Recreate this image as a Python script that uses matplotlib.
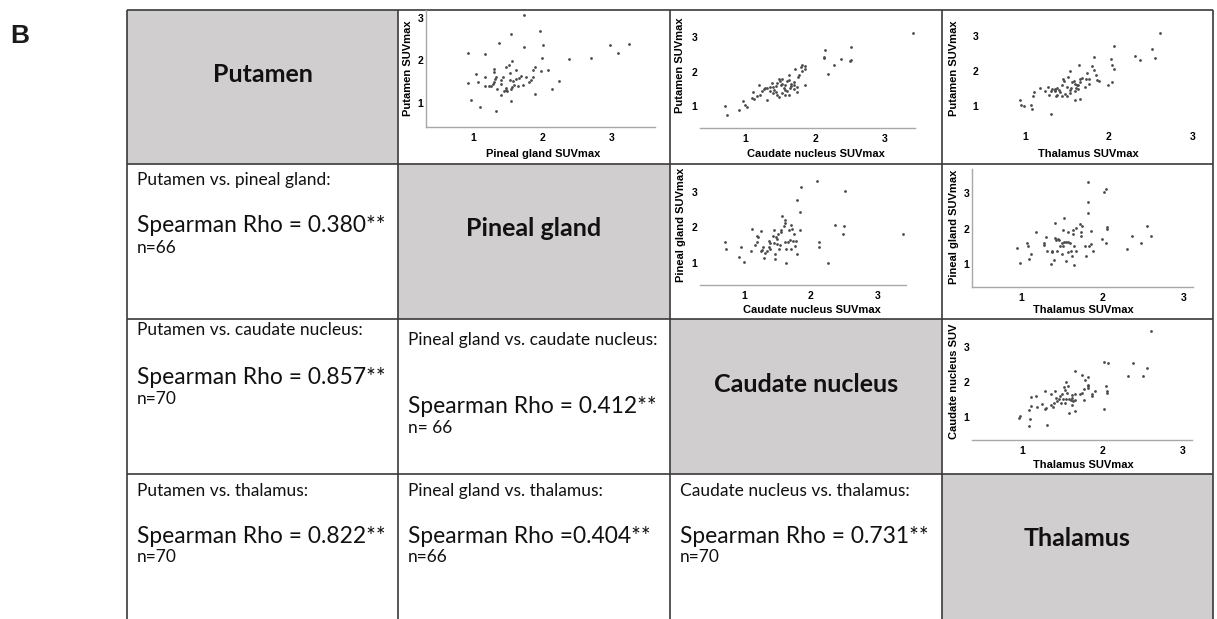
import matplotlib
matplotlib.use("Agg")
import matplotlib.pyplot as plt
import matplotlib.patches as mpatches

# Region names on the diagonal
regions = ["Putamen", "Pineal gland", "Caudate nucleus", "Thalamus"]

# Lower triangle: correlation texts (row, col)
pair_cells = [(1, 0), (2, 0), (3, 0), (2, 1), (3, 1), (3, 2)]
pair_titles = [
    "Putamen vs. pineal gland:",
    "Putamen vs. caudate nucleus:",
    "Putamen vs. thalamus:",
    "Pineal gland vs. caudate nucleus:",
    "Pineal gland vs. thalamus:",
    "Caudate nucleus vs. thalamus:",
]
rho_texts = [
    "Spearman Rho = 0.380**",
    "Spearman Rho = 0.857**",
    "Spearman Rho = 0.822**",
    "Spearman Rho = 0.412**",
    "Spearman Rho =0.404**",
    "Spearman Rho = 0.731**",
]
n_texts = ["n=66", "n=70", "n=70", "n= 66", "n=66", "n=70"]

# Upper triangle scatter data (x, y)
pin_put_x = [1.74, 1.97, 1.55, 1.37, 2.01, 1.73, 2.98, 3.26, 3.09, 0.92, 1.17, 2.00, 2.39,
             2.71, 1.56, 1.52, 1.47, 1.31, 1.62, 1.89, 1.87, 2.08, 1.98, 1.31, 1.54, 1.04,
             1.18, 1.33, 1.44, 1.67, 1.76, 1.86, 1.32, 1.41, 1.54, 1.58, 1.84, 1.07, 1.31,
             1.81, 2.24, 0.93, 1.29, 1.26, 1.23, 1.59, 1.65, 1.72, 1.48, 1.47, 1.45, 1.35,
             1.49, 1.55, 2.14, 1.41, 1.89, 0.97, 1.55, 1.10, 1.33, 1.62, 1.40, 1.70, 1.56,
             1.18]
pin_put_y = [3.07, 2.70, 2.63, 2.42, 2.36, 2.31, 2.35, 2.39, 2.17, 2.18, 2.14, 2.06, 2.03,
             2.05, 1.98, 1.89, 1.84, 1.80, 1.78, 1.83, 1.76, 1.78, 1.75, 1.72, 1.69, 1.67,
             1.61, 1.60, 1.61, 1.59, 1.61, 1.61, 1.55, 1.53, 1.54, 1.51, 1.54, 1.48, 1.48,
             1.48, 1.50, 1.45, 1.43, 1.40, 1.38, 1.42, 1.40, 1.42, 1.35, 1.30, 1.27, 1.31,
             1.27, 1.31, 1.32, 1.17, 1.20, 1.06, 1.04, 0.90, 0.79, 1.56, 1.43, 1.63, 1.37,
             1.40]

cau_put_x = [3.40, 2.14, 2.51, 2.12, 2.13, 2.37, 2.52, 2.50, 2.27, 2.18, 1.86, 1.80, 1.81,
             1.71, 1.85, 1.63, 1.52, 1.48, 1.63, 1.60, 1.70, 1.76, 1.65, 1.57, 1.45, 1.44,
             1.51, 1.40, 1.74, 1.85, 1.20, 1.31, 1.27, 1.35, 1.57, 1.60, 1.70, 1.44, 1.52,
             1.11, 1.24, 1.17, 1.21, 1.31, 1.13, 1.48, 1.62, 1.74, 0.96, 1.00, 1.03, 0.71,
             0.91, 0.73, 1.41, 1.50, 1.64, 1.35, 1.55, 1.46, 1.77, 1.69, 1.81, 1.40, 1.57,
             1.28, 1.66, 1.53, 1.38, 1.09]
cau_put_y = [3.09, 2.63, 2.71, 2.41, 2.39, 2.37, 2.34, 2.31, 2.18, 1.93, 2.17, 2.13, 2.00,
             2.06, 2.07, 1.89, 1.79, 1.78, 1.76, 1.72, 1.70, 1.83, 1.64, 1.62, 1.67, 1.59,
             1.60, 1.55, 1.56, 1.62, 1.60, 1.53, 1.49, 1.45, 1.48, 1.45, 1.50, 1.41, 1.37,
             1.41, 1.43, 1.29, 1.32, 1.19, 1.21, 1.28, 1.33, 1.40, 1.16, 1.03, 0.98, 1.02,
             0.89, 0.76, 1.46, 1.72, 1.53, 1.55, 1.53, 1.32, 1.91, 1.62, 2.18, 1.37, 1.33,
             1.52, 1.57, 1.64, 1.66, 1.24]

tha_put_x = [2.61, 2.06, 2.51, 2.31, 2.37, 2.55, 1.82, 2.02, 1.64, 2.04, 2.06, 1.80, 1.82,
             1.53, 1.74, 1.51, 1.45, 1.73, 1.76, 1.84, 1.86, 1.88, 1.66, 1.56, 1.59, 1.65,
             1.76, 1.63, 1.44, 1.99, 2.04, 1.17, 1.27, 1.35, 1.38, 1.40, 1.50, 1.55, 1.61,
             1.10, 1.31, 1.35, 1.41, 1.47, 1.59, 1.63, 1.09, 1.28, 1.37, 1.38, 1.50, 1.60,
             1.65, 0.94, 0.95, 0.98, 1.07, 1.08, 1.31, 1.54, 1.62, 1.36, 1.58, 1.44, 1.68,
             1.46, 1.32, 1.53, 1.24, 1.71]
tha_put_y = [3.08, 2.72, 2.62, 2.42, 2.30, 2.37, 2.39, 2.34, 2.18, 2.16, 2.07, 2.13, 2.04,
             1.99, 1.94, 1.83, 1.78, 1.78, 1.77, 1.90, 1.74, 1.71, 1.78, 1.68, 1.64, 1.68,
             1.62, 1.61, 1.61, 1.61, 1.69, 1.52, 1.54, 1.49, 1.51, 1.47, 1.54, 1.52, 1.51,
             1.40, 1.44, 1.42, 1.41, 1.35, 1.42, 1.49, 1.29, 1.31, 1.30, 1.33, 1.28, 1.19,
             1.22, 1.19, 1.05, 1.00, 1.05, 0.91, 0.79, 1.47, 1.59, 1.47, 1.71, 1.28, 1.80,
             1.71, 1.50, 1.38, 1.44, 1.56]

cau_pin_x = [2.10, 1.85, 2.52, 1.80, 1.84, 1.57, 1.62, 1.61, 2.36, 2.50, 1.70, 1.60, 1.72,
             1.84, 1.55, 1.56, 1.12, 1.26, 1.45, 2.49, 3.38, 1.75, 1.20, 1.21, 1.43, 1.48,
             1.50, 1.38, 1.20, 0.71, 1.62, 1.66, 1.73, 1.78, 2.13, 1.17, 1.45, 1.49, 1.29,
             1.37, 1.76, 0.95, 2.13, 0.73, 1.27, 1.26, 1.39, 1.52, 1.63, 1.71, 1.10, 1.31,
             1.47, 1.79, 0.92, 1.30, 1.47, 1.00, 1.63, 2.26, 1.39, 1.54, 1.69, 1.34, 1.51,
             1.67]
cau_pin_y = [3.31, 3.13, 3.03, 2.76, 2.44, 2.30, 2.19, 2.13, 2.07, 2.02, 2.07, 2.04, 1.94,
             1.92, 1.91, 1.86, 1.94, 1.88, 1.92, 1.80, 1.81, 1.81, 1.75, 1.72, 1.74, 1.71,
             1.66, 1.61, 1.59, 1.59, 1.58, 1.58, 1.62, 1.61, 1.59, 1.50, 1.55, 1.53, 1.45,
             1.43, 1.47, 1.45, 1.43, 1.38, 1.36, 1.34, 1.38, 1.38, 1.38, 1.38, 1.33, 1.28,
             1.25, 1.24, 1.15, 1.12, 1.09, 1.02, 0.98, 0.98, 1.55, 1.50, 1.64, 1.34, 1.80,
             1.92]

tha_pin_x = [1.82, 2.04, 2.02, 1.82, 1.82, 1.53, 1.41, 1.73, 2.55, 2.06, 2.06, 1.67, 1.52,
             1.86, 1.64, 1.57, 1.74, 1.18, 1.64, 1.74, 2.37, 2.60, 1.31, 1.42, 1.45, 1.43,
             2.00, 1.07, 1.28, 1.53, 1.57, 2.05, 2.48, 1.08, 1.48, 1.52, 1.60, 1.86, 1.83,
             0.95, 1.78, 2.31, 1.32, 1.38, 1.38, 1.61, 1.67, 1.88, 1.12, 1.57, 1.63, 1.80,
             1.10, 1.40, 1.55, 0.98, 1.36, 1.65, 1.50, 1.46, 1.28, 1.65, 1.75, 1.55, 1.44,
             1.50]
tha_pin_y = [3.30, 3.12, 3.02, 2.76, 2.44, 2.29, 2.17, 2.12, 2.06, 2.04, 2.00, 2.01, 1.95,
             1.93, 1.95, 1.91, 1.91, 1.89, 1.85, 1.80, 1.78, 1.80, 1.75, 1.72, 1.70, 1.67,
             1.70, 1.59, 1.59, 1.62, 1.63, 1.59, 1.59, 1.50, 1.50, 1.52, 1.59, 1.57, 1.52,
             1.46, 1.50, 1.42, 1.38, 1.38, 1.34, 1.38, 1.38, 1.38, 1.29, 1.33, 1.23, 1.22,
             1.15, 1.12, 1.09, 1.03, 0.99, 0.98, 1.59, 1.67, 1.54, 1.50, 2.06, 1.63, 1.36,
             1.29]

tha_cau_x = [2.61, 2.03, 2.07, 2.39, 2.56, 1.66, 1.75, 2.32, 2.51, 1.83, 1.79, 1.55, 2.05,
             1.58, 1.83, 1.52, 1.82, 1.78, 1.29, 1.41, 1.54, 1.91, 2.06, 2.06, 1.37, 1.66,
             1.73, 1.63, 1.87, 1.87, 1.18, 1.43, 1.46, 1.51, 1.55, 1.59, 1.62, 1.61, 1.78,
             1.49, 1.54, 1.40, 1.63, 1.37, 1.39, 1.12, 1.19, 1.30, 1.29, 2.02, 1.09, 1.66,
             1.59, 0.98, 0.96, 1.10, 1.09, 1.32, 1.50, 1.48, 1.66, 1.75, 1.56, 1.64, 1.44,
             1.25, 1.83, 1.12]
tha_cau_y = [3.46, 2.57, 2.55, 2.55, 2.41, 2.31, 2.22, 2.18, 2.17, 2.14, 2.07, 2.01, 1.90,
             1.90, 1.88, 1.86, 1.82, 1.81, 1.76, 1.76, 1.78, 1.76, 1.74, 1.70, 1.67, 1.65,
             1.67, 1.63, 1.65, 1.60, 1.59, 1.55, 1.53, 1.53, 1.53, 1.52, 1.55, 1.48, 1.50,
             1.41, 1.40, 1.40, 1.34, 1.34, 1.29, 1.33, 1.29, 1.25, 1.22, 1.24, 1.20, 1.17,
             1.12, 1.02, 0.98, 0.93, 0.73, 0.76, 1.65, 1.60, 1.50, 1.70, 1.70, 1.46, 1.46,
             1.36, 1.93, 1.57]

scatter_sets = [
    (pin_put_x, pin_put_y, "Pineal gland SUVmax", "Putamen SUVmax"),
    (cau_put_x, cau_put_y, "Caudate nucleus SUVmax", "Putamen SUVmax"),
    (tha_put_x, tha_put_y, "Thalamus SUVmax", "Putamen SUVmax"),
    (cau_pin_x, cau_pin_y, "Caudate nucleus SUVmax", "Pineal gland SUVmax"),
    (tha_pin_x, tha_pin_y, "Thalamus SUVmax", "Pineal gland SUVmax"),
    (tha_cau_x, tha_cau_y, "Thalamus SUVmax", "Caudate nucleus SUV"),
]
ticks = [1, 2, 3]

# Layout (pixels)
W, H = 1217, 619
col_edges = [127, 398, 670, 942, 1213]
row_edges = [10, 164, 319, 474, 619]

# scatter axes: box (left, top, right, bottom px), xlim, ylim, visible spines,
# x-label centre (px), y-label centre (px)
scatter_layout = [
    ((426, 10, 655, 127), (0.32, 3.63), (0.42, 3.19), ("left", "bottom"),
     (543, 154), (408, 68)),
    ((700, 15, 915, 128), (0.35, 3.43), (0.38, 3.62), ("bottom",),
     (816, 154), (680, 65)),
    ((981, 15, 1205, 126), (0.47, 3.15), (0.44, 3.59), (),
     (1088, 154), (954, 68)),
    ((700, 170, 906, 285), (0.34, 3.43), (0.37, 3.61), ("bottom",),
     (812, 310), (681, 225)),
    ((972, 169, 1193, 287), (0.39, 3.12), (0.35, 3.68), ("left", "bottom"),
     (1083, 310), (954, 227)),
    ((972, 324, 1192, 440), (0.38, 3.12), (0.34, 3.67), ("bottom",),
     (1083, 465), (954, 381)),
]

TEXT_FONT = ["Lato", "DejaVu Sans"]
PLOT_FONT = ["Liberation Sans", "DejaVu Sans"]
INK = "#111111"

fig = plt.figure(figsize=(W / 100, H / 100), dpi=100)
base = fig.add_axes([0, 0, 1, 1])
base.set_xlim(0, W)
base.set_ylim(H, 0)
base.axis("off")

# Panel letter
base.text(10, 36, "B", fontsize=19, fontweight="bold", family=PLOT_FONT,
          color="#1a1a1a", va="center", ha="left")

# Grey diagonal cells
for i, name in enumerate(regions):
    x0, x1 = col_edges[i], col_edges[i + 1]
    y0, y1 = row_edges[i], row_edges[i + 1]
    base.add_patch(mpatches.Rectangle((x0, y0), x1 - x0, y1 - y0,
                                      facecolor="#d0cecf", edgecolor="none"))
    base.text((x0 + x1) / 2, y0 + 65, name, ha="center", va="center",
              fontsize=18, fontweight="bold", family=TEXT_FONT, color=INK)

# Grid lines
for x in col_edges:
    base.plot([x, x], [row_edges[0], H], color="#3a3a3a", lw=1.2,
              solid_capstyle="butt")
for y in row_edges[:-1]:
    base.plot([col_edges[0], col_edges[-1]], [y, y], color="#3a3a3a", lw=1.2,
              solid_capstyle="butt")

# Text baselines per cell (offsets from the row top)
baseline_offsets = {
    (1, 0): (21, 68, 89),
    (2, 0): (16, 65, 85),
    (3, 0): (22, 69, 88),
    (2, 1): (26, 94, 114),
    (3, 1): (22, 69, 88),
    (3, 2): (22, 69, 88),
}
for (r, c), title, rho, n in zip(pair_cells, pair_titles, rho_texts, n_texts):
    x = col_edges[c] + 10
    top = row_edges[r]
    b1, b2, b3 = baseline_offsets[(r, c)]
    base.text(x, top + b1, title, fontsize=12.5, family=TEXT_FONT,
              va="baseline", ha="left", color=INK)
    base.text(x, top + b2, rho, fontsize=16.4, family=TEXT_FONT,
              va="baseline", ha="left", color=INK)
    base.text(x, top + b3, n, fontsize=12.5, family=TEXT_FONT,
              va="baseline", ha="left", color=INK)

# Scatter panels
for (xs, ys, xlab, ylab), (box, xlim, ylim, spines, xl_pos, yl_pos) in zip(
        scatter_sets, scatter_layout):
    l, t, r, b = box
    ax = fig.add_axes([l / W, 1 - b / H, (r - l) / W, (b - t) / H])
    ax.patch.set_alpha(0)
    ax.scatter(xs, ys, s=4, color="#4a4a4a", linewidths=0)
    ax.set_xlim(*xlim)
    ax.set_ylim(*ylim)
    ax.set_xticks(ticks)
    ax.set_yticks(ticks)
    for side, sp in ax.spines.items():
        sp.set_visible(side in spines)
        sp.set_color("#a8a8a8")
        sp.set_linewidth(1.0)
    ax.tick_params(length=0, labelsize=7.5)
    ax.tick_params(axis="x", pad=4)
    ax.tick_params(axis="y", pad=2)
    for lab in ax.get_xticklabels() + ax.get_yticklabels():
        lab.set_fontweight("bold")
        lab.set_family(PLOT_FONT)
    ax.set_xlabel(xlab, fontsize=8, fontweight="bold", family=PLOT_FONT, va="center")
    ax.set_ylabel(ylab, fontsize=8, fontweight="bold", family=PLOT_FONT, va="center")
    ax.xaxis.set_label_coords((xl_pos[0] - l) / (r - l), (b - xl_pos[1]) / (b - t))
    ax.yaxis.set_label_coords((yl_pos[0] - l) / (r - l), (b - yl_pos[1]) / (b - t))

fig.savefig("out.png", dpi=100)
